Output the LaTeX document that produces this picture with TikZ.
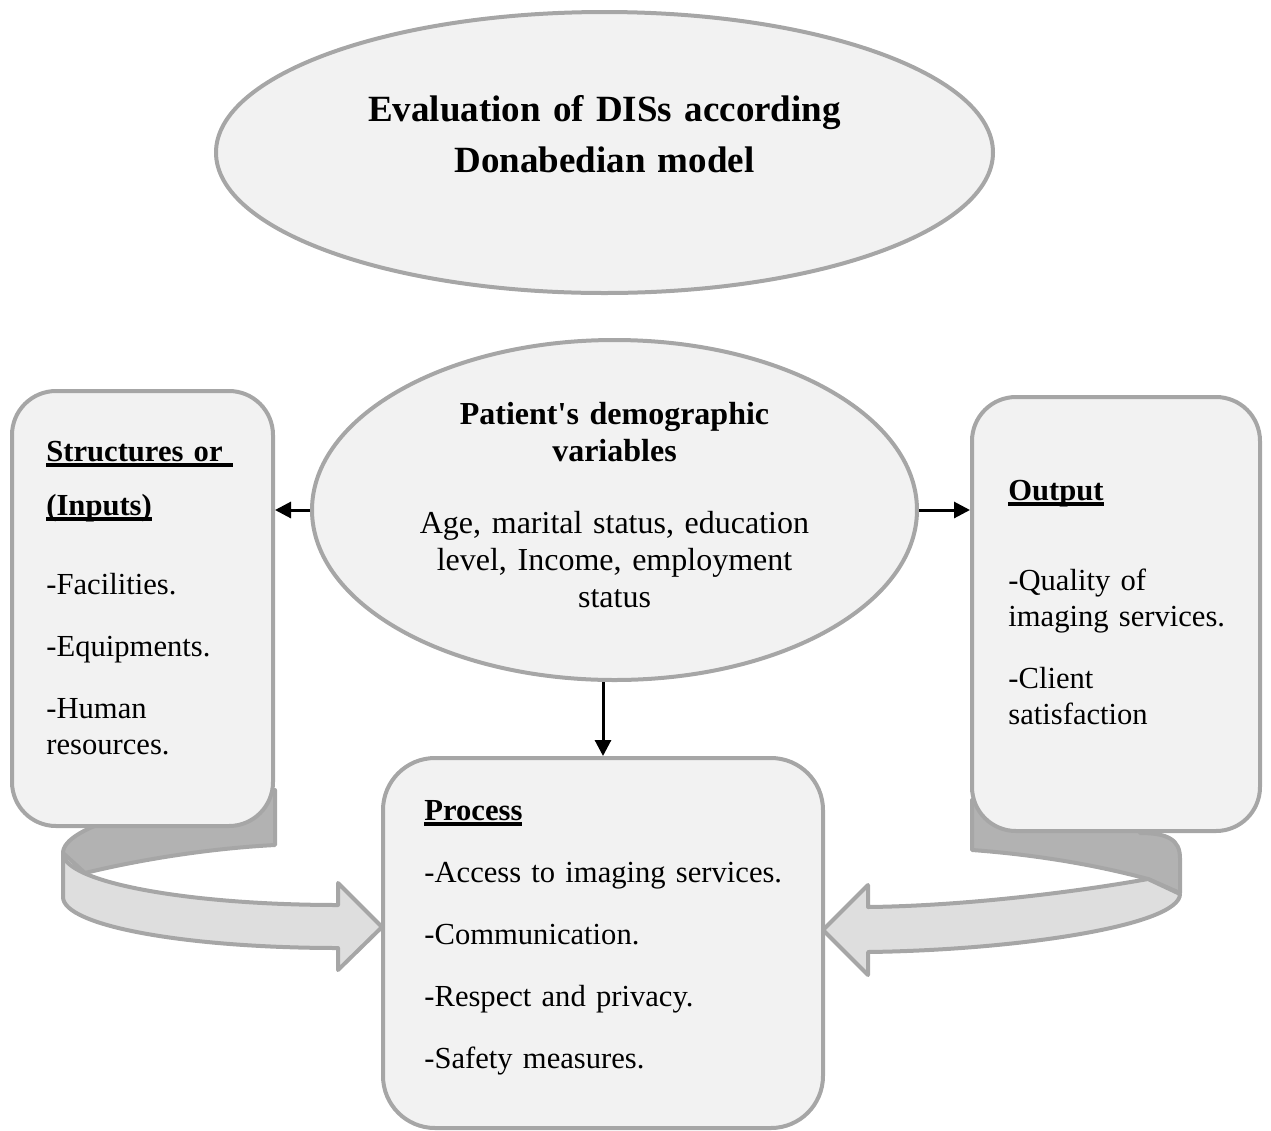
\documentclass[tikz,border=0pt]{standalone}
\usepackage{fontspec}
\setmainfont{Liberation Serif}
\usetikzlibrary{shapes.geometric,arrows.meta}

\definecolor{boxfill}{HTML}{F2F2F2}
\definecolor{boxline}{HTML}{A6A6A6}
\definecolor{ribbondark}{HTML}{B2B2B2}
\definecolor{ribbonlight}{HTML}{DEDEDE}

% thick underline for the headings
\newcommand{\headuline}[1]{\leavevmode\setbox0=\hbox{#1}\rlap{\rule[-2.8pt]{\wd0}{2pt}}\box0}

\tikzset{
  panel/.style={draw=boxline, line width=2pt, fill=boxfill, rounded corners=22pt, inner sep=0pt},
  bubble/.style={ellipse, draw=boxline, line width=2pt, fill=boxfill, inner sep=0pt},
  para/.style={anchor=base west, inner sep=0pt, align=left, font=\fontsize{15.3}{18}\selectfont},
  arr/.style={line width=1.5pt, -{Triangle[length=8pt,width=8pt]}},
  ribbonback/.style={fill=ribbondark, draw=boxline, line width=2pt, line join=round},
  ribbonfront/.style={fill=ribbonlight, draw=boxline, line width=2pt, line join=round}
}

\begin{document}
\begin{tikzpicture}[x=0.5pt,y=-0.5pt,font=\fontsize{16}{18.5}\selectfont]
\useasboundingbox (0,0) rectangle (1271,1131);

% curved arrows (behind the boxes)
\filldraw[ribbonback] (275,845) -- (275,790) .. controls (160,800) and (63,826) .. (63,853)
  -- (85,873) .. controls (130,862) and (200,849) .. (275,845) -- cycle;
\filldraw[ribbonfront] (63,853) .. controls (63,882) and (187,905) .. (338,905) -- (338,883)
  -- (382,927) -- (338,970) -- (338,948) .. controls (187,948) and (63,926) .. (63,897) -- cycle;
\filldraw[ribbonback] (972,850) -- (972,800) -- (1140,800) -- (1140,833)
  .. controls (1168,833) and (1180,840) .. (1180,858) -- (1180,893) -- (1148,879)
  .. controls (1100,866) and (1040,855) .. (972,850) -- cycle;
\filldraw[ribbonfront] (868,907) .. controls (960,906) and (1070,893) .. (1148,879) -- (1180,894)
  .. controls (1180,925) and (1020,950) .. (868,952) -- (868,975) -- (823,930) -- (868,885) -- cycle;

% boxes
\node[panel, minimum width=130.5pt, minimum height=217.5pt] (inputs) at (142.5,608.5) {};
\node[panel, minimum width=144pt, minimum height=217pt] (outputs) at (1116,614) {};
\node[panel, rounded corners=26pt, minimum width=220pt, minimum height=185pt] (process) at (603,943) {};
\node[bubble, minimum width=388.5pt, minimum height=140.5pt] (model) at (604.5,152.5) {};
\node[bubble, minimum width=302.5pt, minimum height=170pt] (demo) at (614.5,510) {};

% texts
\node[anchor=base, inner sep=0pt, align=center, text width=250pt,
  font=\fontsize{18.5}{25.5}\selectfont\bfseries] (modeltext) at (604.5,121)
  {Evaluation of DISs according\\ Donabedian model};
\node[anchor=base, inner sep=0pt, align=center, text width=200pt] (demotext) at (614.5,424)
  {\textbf{Patient\textquotesingle s demographic}\\ \textbf{variables}\\[17.5pt]
   Age, marital status, education\\ level, Income, employment\\ status};
\node[para, text width=115pt] (inputstext) at (46,461)
  {\headuline{\textbf{Structures or\ }}\\[9pt] \headuline{\textbf{(Inputs)}}\\[21.5pt]
   -Facilities.\\[13pt] -Equipments.\\[13pt] -Human\\ resources.};
\node[para, text width=125pt] (outputstext) at (1008,500)
  {\headuline{\textbf{Output}}\\[27pt] -Quality of\\ imaging services.\\[13pt]
   -Client\\ satisfaction};
\node[para, text width=195pt] (processtext) at (424,820)
  {\headuline{\textbf{Process}}\\[13pt] -Access to imaging services.\\[13pt]
   -Communication.\\[13pt] -Respect and privacy.\\[13pt] -Safety measures.};

% connectors
\draw[arr] (demo.west) -- (demo.west -| inputs.east);
\draw[arr] (demo.east) -- (demo.east -| outputs.west);
\draw[arr] (demo.south -| process.north) -- (process.north);
\end{tikzpicture}
\end{document}
